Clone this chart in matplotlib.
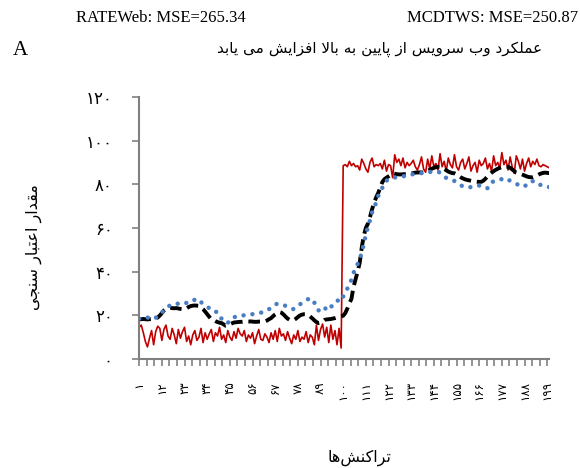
import numpy as np
import matplotlib
matplotlib.use("Agg")
import matplotlib.pyplot as plt

# --- data ---
rateweb = [
    14.5, 15.5, 12.0, 8.0, 5.5, 9.5, 13.0, 6.5, 12.5, 15.0,
    14.0, 8.5, 13.5, 15.5, 10.5, 9.0, 14.0, 11.0, 7.0, 13.5,
    9.5, 12.5, 14.5, 8.0, 10.5, 6.5, 11.0, 13.0, 8.5, 10.0,
    14.0, 7.5, 12.0, 9.0, 11.5, 13.5, 8.0, 12.0, 10.5, 14.5,
    9.0, 11.0, 7.5, 13.0, 10.0, 8.5, 12.5, 9.5, 14.0, 11.5,
    10.5, 13.0, 8.0, 11.0, 9.5, 12.0, 7.0, 10.5, 13.5, 9.0,
    8.5, 11.5, 10.0, 7.5, 12.0, 9.0, 13.0, 8.0, 14.0, 10.5,
    11.5, 8.5, 12.5, 9.5, 7.0, 11.0, 9.0, 13.0, 8.0, 10.0,
    9.0, 12.5, 7.5, 11.0, 10.0, 6.5, 15.5, 8.5, 13.5, 16.0,
    10.0, 14.5, 7.5, 15.5, 9.0, 13.0, 6.5, 14.0, 5.0, 88.5,
    89.0, 88.0, 90.5, 88.5, 89.5, 88.0, 88.5, 86.5, 91.5, 89.5,
    87.0, 85.5, 90.0, 92.0, 88.0, 89.0, 88.5, 89.5, 87.0, 91.0,
    86.0, 89.0, 88.5, 83.0, 93.5, 90.0, 91.5, 88.5, 92.0, 87.5,
    90.0, 88.5, 89.5, 91.0, 88.0, 86.5, 89.0, 92.5, 87.0, 85.5,
    91.5, 87.0, 93.0, 88.0, 89.5, 86.5, 94.0, 88.0, 90.5, 86.0,
    92.0, 89.0, 87.5, 93.5, 88.0, 86.5, 90.0, 91.5, 87.0, 89.5,
    92.5, 86.0, 88.5, 90.0, 85.5, 91.0, 88.5, 89.5, 92.0, 87.0,
    89.5, 86.0, 93.0, 88.5, 90.0, 87.5, 94.5, 89.0, 91.0, 86.5,
    92.5, 88.0, 85.0, 93.0, 90.5, 87.0, 91.5, 86.0, 89.5, 92.0,
    88.0, 90.5, 89.0, 91.5, 88.5, 88.0, 89.0, 88.5, 88.0, 87.5,
]
mcdtws = [
    18.2, 18.2, 18.3, 18.2, 18.1, 18.2, 18.3, 18.4, 18.5, 19.0,
    19.9, 21.0, 22.2, 22.9, 23.3, 23.4, 23.3, 23.2, 23.3, 23.1,
    22.9, 22.8, 22.8, 23.2, 23.8, 24.2, 24.4, 24.5, 24.4, 24.3,
    23.6, 22.8, 21.7, 20.5, 19.3, 18.2, 17.8, 17.3, 16.9, 16.6,
    16.4, 15.8, 15.2, 15.4, 15.9, 16.3, 16.7, 16.8, 16.9, 17.0,
    17.0, 17.1, 17.1, 17.1, 17.2, 17.1, 17.0, 17.0, 17.1, 17.1,
    17.1, 17.2, 17.6, 18.2, 18.7, 19.6, 20.4, 21.0, 21.5, 21.2,
    20.4, 19.4, 18.5, 17.9, 17.6, 17.8, 18.4, 19.2, 19.9, 20.3,
    20.5, 20.5, 20.2, 19.4, 18.6, 17.7, 16.9, 16.4, 16.6, 17.2,
    17.9, 18.1, 18.2, 18.3, 18.5, 18.7, 19.0, 19.3, 19.5, 19.8,
    21.0, 23.0, 25.5, 27.5, 33.0, 36.5, 40.0, 44.0, 51.0, 56.5,
    60.0, 62.0, 65.0, 68.5, 71.5, 74.0, 76.0, 78.5, 81.0, 82.3,
    83.0, 83.6, 84.2, 85.0, 84.8, 84.6, 84.5, 84.5, 84.6, 84.6,
    84.6, 84.7, 84.9, 85.1, 85.3, 85.4, 85.4, 85.4, 85.4, 85.6,
    86.1, 86.6, 87.1, 87.5, 87.8, 88.0, 88.0, 87.6, 87.0, 86.4,
    85.8, 85.4, 85.1, 85.0, 84.5, 83.8, 83.2, 82.7, 82.3, 82.0,
    81.8, 81.6, 81.4, 81.2, 81.1, 81.1, 81.1, 81.6, 82.5, 83.5,
    84.5, 85.3, 86.0, 86.6, 87.1, 87.5, 87.9, 88.1, 88.1, 88.0,
    87.5, 86.8, 86.0, 85.3, 85.0, 84.8, 84.4, 84.0, 83.6, 83.3,
    83.2, 83.2, 83.5, 84.0, 84.5, 84.9, 85.2, 85.3, 85.2, 85.1,
]
proposed = [
    18.4, 18.6, 18.9, 19.2, 19.0, 18.6, 18.3, 18.2, 18.8, 19.6,
    20.2, 21.2, 22.4, 23.2, 24.0, 24.5, 24.6, 24.5, 24.9, 25.5,
    25.8, 25.9, 25.9, 25.6, 25.7, 25.9, 26.5, 27.2, 27.6, 27.2,
    26.0, 25.3, 24.6, 24.0, 23.2, 22.2, 21.7, 21.6, 21.5, 19.6,
    18.4, 17.2, 16.4, 16.6, 17.2, 17.6, 19.0, 19.5, 19.7, 19.8,
    19.9, 20.0, 20.2, 20.3, 20.4, 20.5, 20.7, 20.8, 21.0, 21.2,
    21.4, 21.6, 22.2, 22.8, 23.3, 24.1, 24.9, 25.3, 25.2, 25.0,
    24.8, 24.3, 23.7, 23.3, 23.0, 22.8, 23.5, 24.3, 25.0, 25.6,
    26.2, 26.8, 27.4, 27.9, 27.0, 25.8, 23.5, 22.2, 23.0, 24.0,
    23.4, 22.6, 22.2, 23.6, 25.1, 25.8, 26.8, 26.6, 26.3, 28.5,
    30.8, 32.2, 33.5, 36.5, 39.4, 41.7, 43.5, 45.4, 49.0, 52.5,
    57.0, 60.2, 63.5, 67.0, 69.5, 71.5, 74.6, 76.5, 78.4, 80.8,
    81.6, 82.3, 82.6, 83.0, 83.1, 83.1, 83.1, 83.3, 83.6, 83.8,
    84.1, 84.2, 84.4, 84.6, 84.7, 84.9, 85.0, 85.1, 85.2, 85.3,
    85.4, 85.6, 85.7, 85.8, 85.8, 85.6, 85.4, 84.6, 83.6, 82.9,
    82.4, 82.0, 81.7, 81.5, 80.8, 80.1, 79.5, 79.1, 78.8, 78.5,
    78.6, 78.7, 78.8, 79.0, 79.2, 79.4, 79.5, 79.0, 78.5, 78.2,
    79.6, 81.1, 81.2, 81.4, 81.5, 81.9, 82.4, 82.9, 82.6, 82.1,
    81.6, 81.2, 80.7, 80.1, 79.8, 79.4, 79.0, 78.9, 79.9, 81.0,
    81.2, 81.4, 81.5, 81.0, 80.2, 79.5, 79.2, 79.0, 78.8, 78.7,
]
transactions = list(range(1, 201))
x_labels = [1, 12, 23, 34, 45, 56, 67, 78, 89, 100, 111, 122, 133, 144, 155, 166, 177, 188, 199]
y_ticks = [0, 20, 40, 60, 80, 100, 120]

title_fa = "عملکرد وب سرویس از پایین به بالا افزایش می یابد"
ylabel_fa = "مقدار اعتبار سنجی"
xlabel_fa = "تراکنش\u200cها"

# --- minimal Persian shaping (matplotlib has no bidi / shaping) ---
FORMS = {  # isolated, final, initial, medial
    "ا": ("\uFE8D", "\uFE8E", None, None),
    "ب": ("\uFE8F", "\uFE90", "\uFE91", "\uFE92"),
    "پ": ("\uFB56", "\uFB57", "\uFB58", "\uFB59"),
    "ت": ("\uFE95", "\uFE96", "\uFE97", "\uFE98"),
    "ج": ("\uFE9D", "\uFE9E", "\uFE9F", "\uFEA0"),
    "د": ("\uFEA9", "\uFEAA", None, None),
    "ر": ("\uFEAD", "\uFEAE", None, None),
    "ز": ("\uFEAF", "\uFEB0", None, None),
    "س": ("\uFEB1", "\uFEB2", "\uFEB3", "\uFEB4"),
    "ش": ("\uFEB5", "\uFEB6", "\uFEB7", "\uFEB8"),
    "ع": ("\uFEC9", "\uFECA", "\uFECB", "\uFECC"),
    "ف": ("\uFED1", "\uFED2", "\uFED3", "\uFED4"),
    "ق": ("\uFED5", "\uFED6", "\uFED7", "\uFED8"),
    "ل": ("\uFEDD", "\uFEDE", "\uFEDF", "\uFEE0"),
    "م": ("\uFEE1", "\uFEE2", "\uFEE3", "\uFEE4"),
    "ن": ("\uFEE5", "\uFEE6", "\uFEE7", "\uFEE8"),
    "ه": ("\uFEE9", "\uFEEA", "\uFEEB", "\uFEEC"),
    "و": ("\uFEED", "\uFEEE", None, None),
    "\u06A9": ("\uFB8E", "\uFB8F", "\uFB90", "\uFB91"),
    "\u0643": ("\uFB8E", "\uFB8F", "\uFB90", "\uFB91"),
    "\u06CC": ("\uFBFC", "\uFBFD", "\uFBFE", "\uFBFF"),
    "\u064A": ("\uFBFC", "\uFBFD", "\uFBFE", "\uFBFF"),
}


def shape(text):
    out = []
    k = 0
    while k < len(text):
        c = text[k]
        if c not in FORMS:
            if c != "\u200c":
                out.append(c)
            k += 1
            continue
        prev = text[k - 1] if k > 0 else None
        nxt = text[k + 1] if k + 1 < len(text) else None
        join_prev = prev in FORMS and FORMS[prev][2] is not None
        if c == "ل" and nxt == "ا":
            out.append("\uFEFC" if join_prev else "\uFEFB")
            k += 2
            continue
        join_next = nxt in FORMS and FORMS[c][2] is not None
        iso, fin, ini, med = FORMS[c]
        if join_prev and join_next:
            out.append(med)
        elif join_prev:
            out.append(fin)
        elif join_next:
            out.append(ini)
        else:
            out.append(iso)
        k += 1
    return "".join(reversed(out))


def fa_digits(n):
    return str(n).translate(str.maketrans("0123456789", "۰۱۲۳۴۵۶۷۸۹"))


# --- plot ---
fig = plt.figure(figsize=(5.8, 4.68), dpi=100)
ax = fig.add_axes([0.24, 0.233, 0.707, 0.56])

ax.plot(transactions, rateweb, color="#C00000", lw=1.2, zorder=2)
ax.plot(transactions, mcdtws, color="black", lw=2.8, dashes=(3, 1.5), zorder=3)
ax.plot(transactions, proposed, color="#4A7EC4", lw=3.2,
        linestyle=(0, (0.01, 2.0)), dash_capstyle="round", zorder=4)

ax.set_xlim(1, 200)
ax.set_ylim(0, 120)
ax.set_yticks(y_ticks)
ax.set_yticklabels([fa_digits(v) for v in y_ticks], fontsize=12)
ax.set_xticks(x_labels)
ax.set_xticklabels([fa_digits(v) for v in x_labels], rotation=90, fontsize=8.5)
ax.set_xticks(np.arange(1, 200, 11 / 3), minor=True)

for s in ["top", "right"]:
    ax.spines[s].set_visible(False)
for s in ["left", "bottom"]:
    ax.spines[s].set_color("#808080")
    ax.spines[s].set_linewidth(1.5)
ax.tick_params(axis="both", which="both", direction="out", length=5,
               width=1.2, color="#808080")
ax.tick_params(axis="y", pad=14)
ax.tick_params(axis="x", pad=11)

fig.text(0.277, 0.962, "RATEWeb: MSE=265.34", fontsize=12, family="Liberation Serif", ha="center", va="center")
fig.text(0.997, 0.962, "MCDTWS: MSE=250.87", fontsize=12, family="Liberation Serif", ha="right", va="center")
fig.text(0.035, 0.893, "A", fontsize=15, family="Liberation Serif", ha="center", va="center")
fig.text(0.655, 0.895, shape(title_fa), fontsize=11, family="DejaVu Sans", ha="center", va="center")
fig.text(0.058, 0.472, shape(ylabel_fa), fontsize=11.5, rotation=90, ha="center", va="center")
fig.text(0.62, 0.022, shape(xlabel_fa), fontsize=11.5, ha="center", va="center")

fig.savefig("out.png", dpi=100)
